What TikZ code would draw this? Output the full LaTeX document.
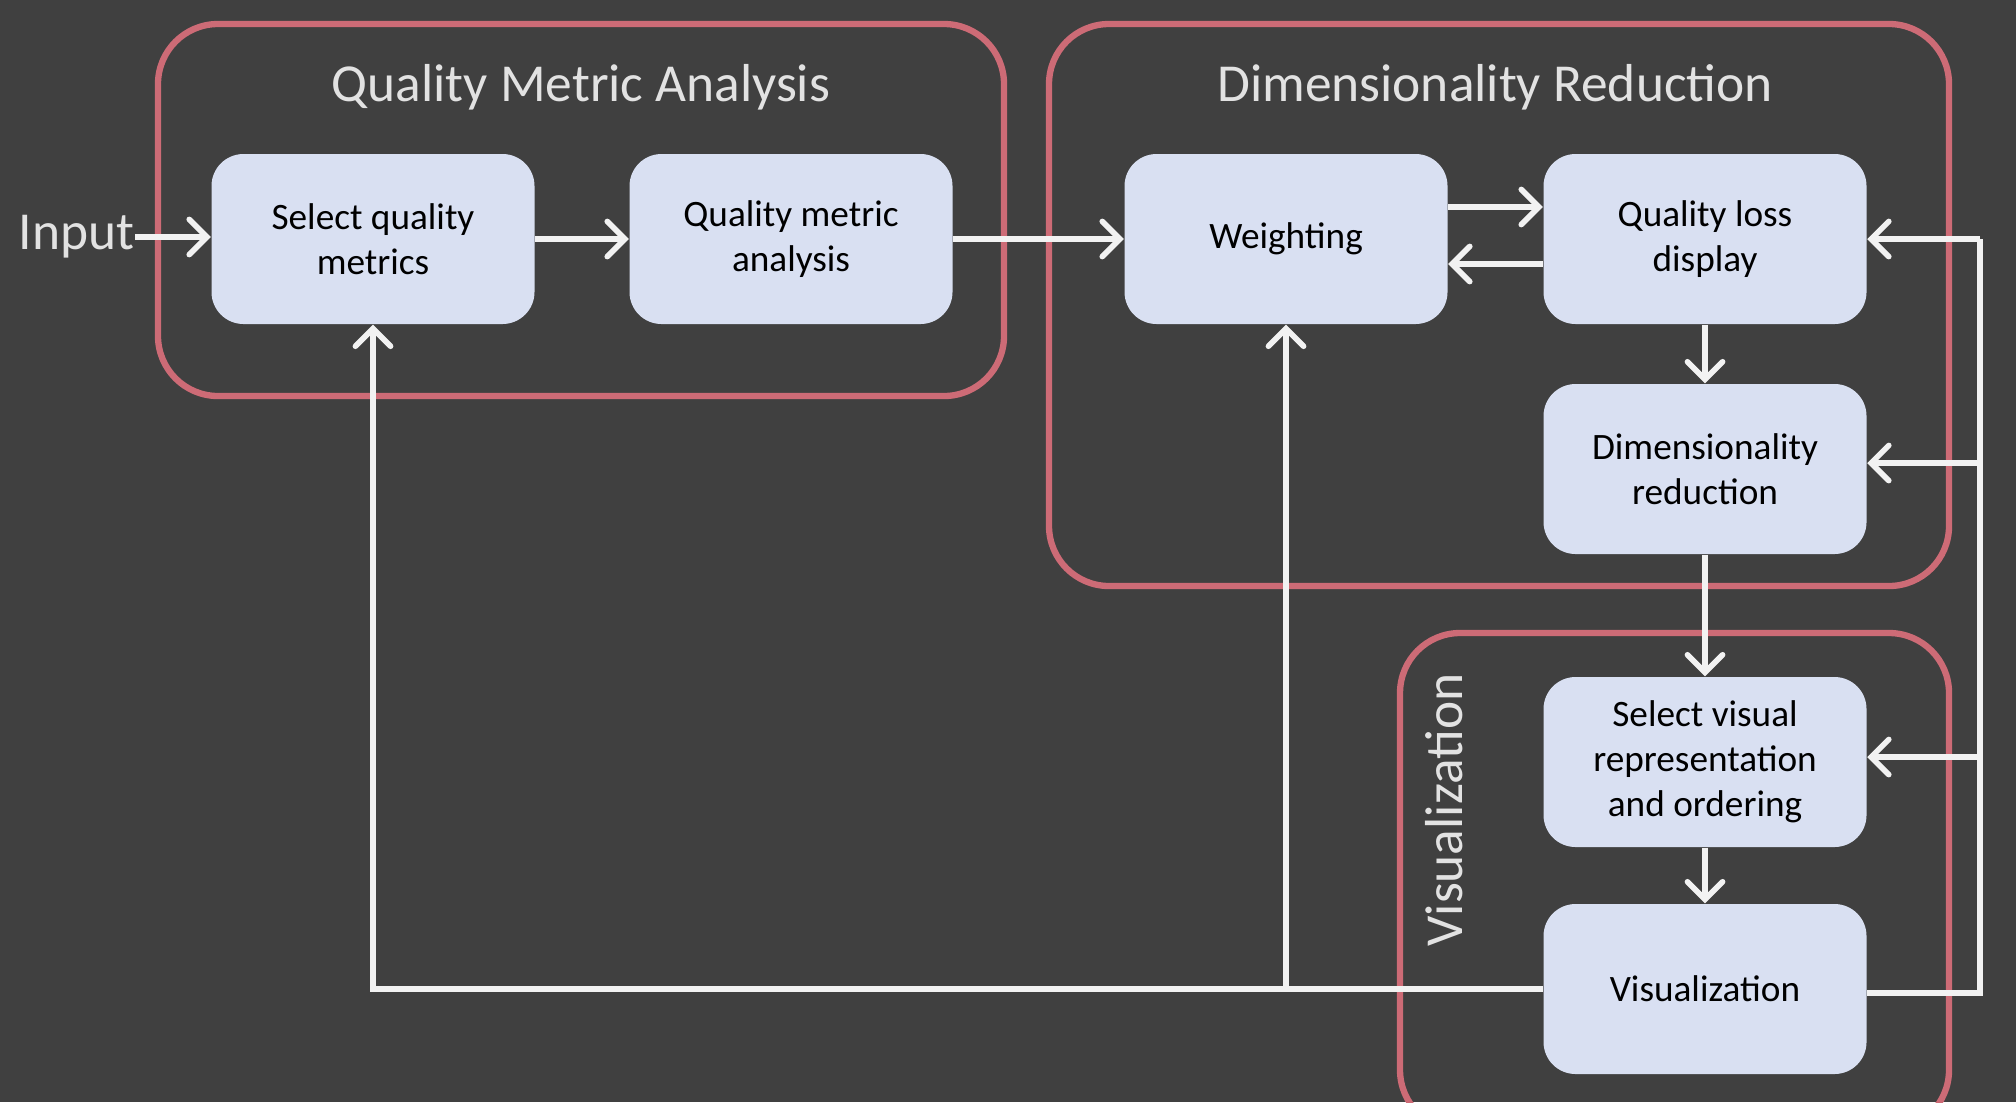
\documentclass[tikz,border=0pt]{standalone}
\usepackage{fontspec}
\setmainfont{Carlito}
\usepackage{xcolor}
\usetikzlibrary{arrows.meta, positioning, calc}
\definecolor{bgdark}{HTML}{404040}
\definecolor{groupred}{HTML}{CD6B76}
\definecolor{boxblue}{HTML}{D9E0F2}
\definecolor{flowwhite}{HTML}{F2F2F2}
\definecolor{titlegray}{HTML}{E2E2E2}

\tikzset{
  stage/.style={draw=groupred, line width=1.8pt, rounded corners=0.6cm},
  grouptitle/.style={text=titlegray, font=\fontsize{15.2}{18}\selectfont, inner sep=0pt},
  stepbox/.style={fill=boxblue, draw=none, rounded corners=0.32cm, minimum width=3.23cm,
    minimum height=1.70cm, align=center, text=black, font=\fontsize{10.6}{12.8}\selectfont},
  flow/.style={draw=flowwhite, line width=1.6pt, -{Straight Barb[length=5pt, width=10pt, line cap=round]}},
  rail/.style={draw=flowwhite, line width=1.6pt},
}

\begin{document}
\begin{tikzpicture}
    % Background
    \fill[bgdark] (0,0) rectangle (20.16,-11.02);
    \useasboundingbox (0,0) rectangle (20.16,-11.02);
    \clip (0,0) rectangle (20.16,-11.02);

    % Stage frames
    \draw[stage] (1.58,-0.24) rectangle (10.04,-3.96);
    \draw[stage] (10.49,-0.24) rectangle (19.49,-5.86);
    \draw[stage] (14.00,-6.33) rectangle (19.49,-11.30);

    % Stage titles
    \node[grouptitle] (qmatitle) at (5.81,-0.87) {Quality Metric Analysis};
    \node[grouptitle] (drtitle) at (14.95,-0.87) {Dimensionality Reduction};
    \node[grouptitle, rotate=90] (vistitle) at (14.44,-8.10) {Visualization};

    % Steps
    \node[stepbox] (sqm) at (3.73,-2.39) {Select quality\\metrics};
    \node[stepbox] (qma) at (7.91,-2.39) {Quality metric\\analysis};
    \node[stepbox] (wt) at (12.86,-2.39) {Weighting};
    \node[stepbox] (qld) at (17.05,-2.39) {Quality loss\\display};
    \node[stepbox] (dr) at (17.05,-4.69) {Dimensionality\\reduction};
    \node[stepbox] (svr) at (17.05,-7.62) {Select visual\\representation\\and ordering};
    \node[stepbox] (vis) at (17.05,-9.89) {Visualization};

    % Input
    \node[grouptitle, anchor=east] (input) at (1.35,-2.37) {Input};
    \draw[flow] (input.east) -- (sqm.west |- input.east);

    % Forward flow
    \draw[flow] (sqm) -- (qma);
    \draw[flow] (qma) -- (wt);
    \draw[flow] ([yshift=0.32cm]wt.east) -- ([yshift=0.32cm]qld.west);
    \draw[flow] ([yshift=-0.25cm]qld.west) -- ([yshift=-0.25cm]wt.east);
    \draw[flow] (qld) -- (dr);
    \draw[flow] (dr) -- (svr);
    \draw[flow] (svr) -- (vis);

    % Feedback to the left
    \draw[flow] (vis.west) -| (sqm.south);
    \draw[flow] (wt |- vis.west) -- (wt.south);

    % Feedback to the right
    \coordinate (railx) at (19.80,-9.93);
    \draw[rail, line join=miter] ([yshift=-0.04cm]vis.east) -- (railx) -- (railx |- qld.east);
    \draw[flow] (railx |- qld.east) -- (qld.east);
    \draw[flow] ([yshift=0.06cm]railx |- dr.east) -- ([yshift=0.06cm]dr.east);
    \draw[flow] ([yshift=0.05cm]railx |- svr.east) -- ([yshift=0.05cm]svr.east);
\end{tikzpicture}
\end{document}
